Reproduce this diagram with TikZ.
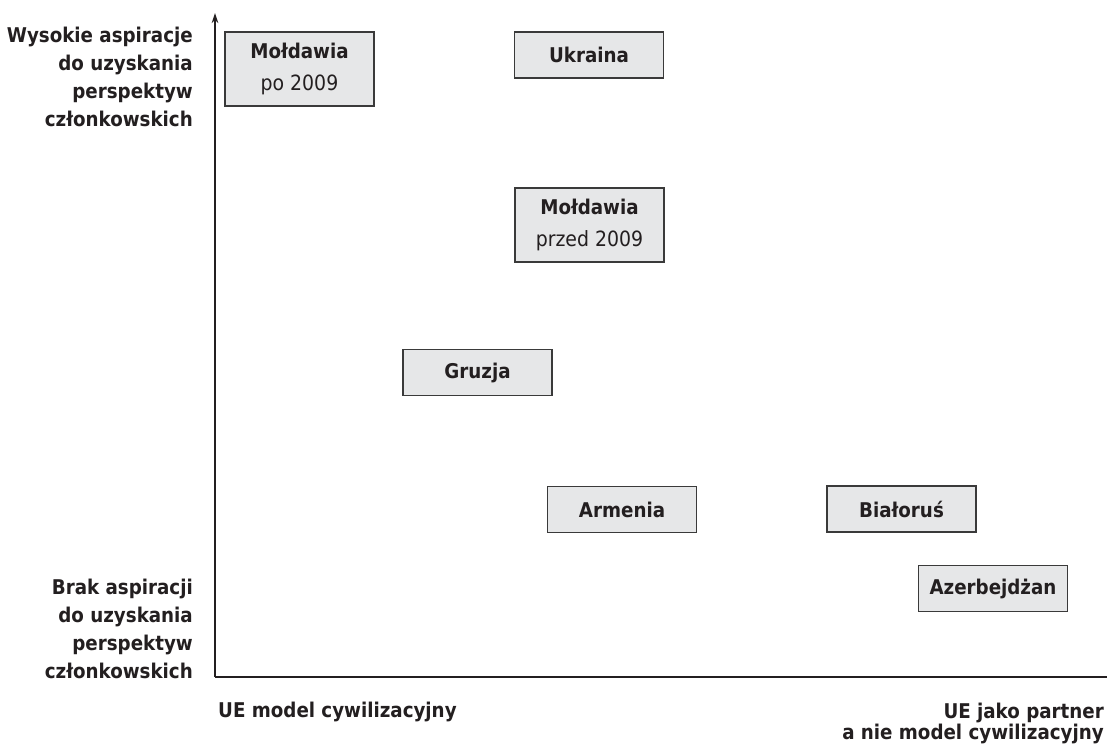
\documentclass[tikz,border=0pt]{standalone}
\usepackage{fontspec}
\setmainfont{DejaVu Sans Condensed}
\usetikzlibrary{arrows.meta}
\definecolor{ink}{HTML}{231F20}
\definecolor{boxfill}{HTML}{E6E7E8}
\definecolor{boxline}{HTML}{3A3A3A}
\newcommand{\yr}[1]{{\fontsize{21}{32}\selectfont\mdseries #1}}
\tikzset{
  axisline/.style={draw=ink, line width=1.5pt},
  country/.style={draw=boxline, line width=1.2pt, fill=boxfill, text=ink,
    minimum width=149pt, minimum height=46pt, inner sep=0pt, align=center,
    font=\fontsize{20.3}{32}\selectfont\bfseries},
  tall/.style={minimum height=74pt},
  lab/.style={text=ink, inner sep=0pt, font=\fontsize{20.3}{28}\selectfont\bfseries}
}
\begin{document}
\begin{tikzpicture}[x=1pt, y=-1pt]
\clip (0,0) rectangle (1107,749);
\fill[white] (0,0) rectangle (1107,749);
% axes
\coordinate (O) at (215,677);
\coordinate (ytop) at (215,13);
\coordinate (xend) at (1112,677);
\draw[axisline, -{Stealth[length=10pt, width=6.5pt]}] (O) -- (ytop);
\draw[axisline] (O) -- (xend);
% axis labels
\node[lab, anchor=north east, align=right] (hi) at (193,26.5)
  {Wysokie aspiracje\\do uzyskania\\perspektyw\\członkowskich};
\node[lab, anchor=north east, align=right] (lo) at (193,578.5)
  {Brak aspiracji\\do uzyskania\\perspektyw\\członkowskich};
\node[lab, anchor=base west] (civ) at (218,717) {UE model cywilizacyjny};
\node[lab, anchor=north east, align=right, font=\fontsize{20.3}{21.5}\selectfont\bfseries] (partner) at (1104,702.5)
  {UE jako partner\\a nie model cywilizacyjny};
% countries
\node[country, tall] (mpo) at (299.5,69) {Mołdawia\\\yr{po 2009}};
\node[country] (ukr) at (589,55) {Ukraina};
\node[country, tall] (mprzed) at (589.5,225) {Mołdawia\\\yr{przed 2009}};
\node[country] (gru) at (477.5,372.5) {Gruzja};
\node[country] (arm) at (622,509.5) {Armenia};
\node[country] (bia) at (901.5,509) {Białoruś};
\node[country] (aze) at (993,588.5) {Azerbejdżan};
\end{tikzpicture}
\end{document}
